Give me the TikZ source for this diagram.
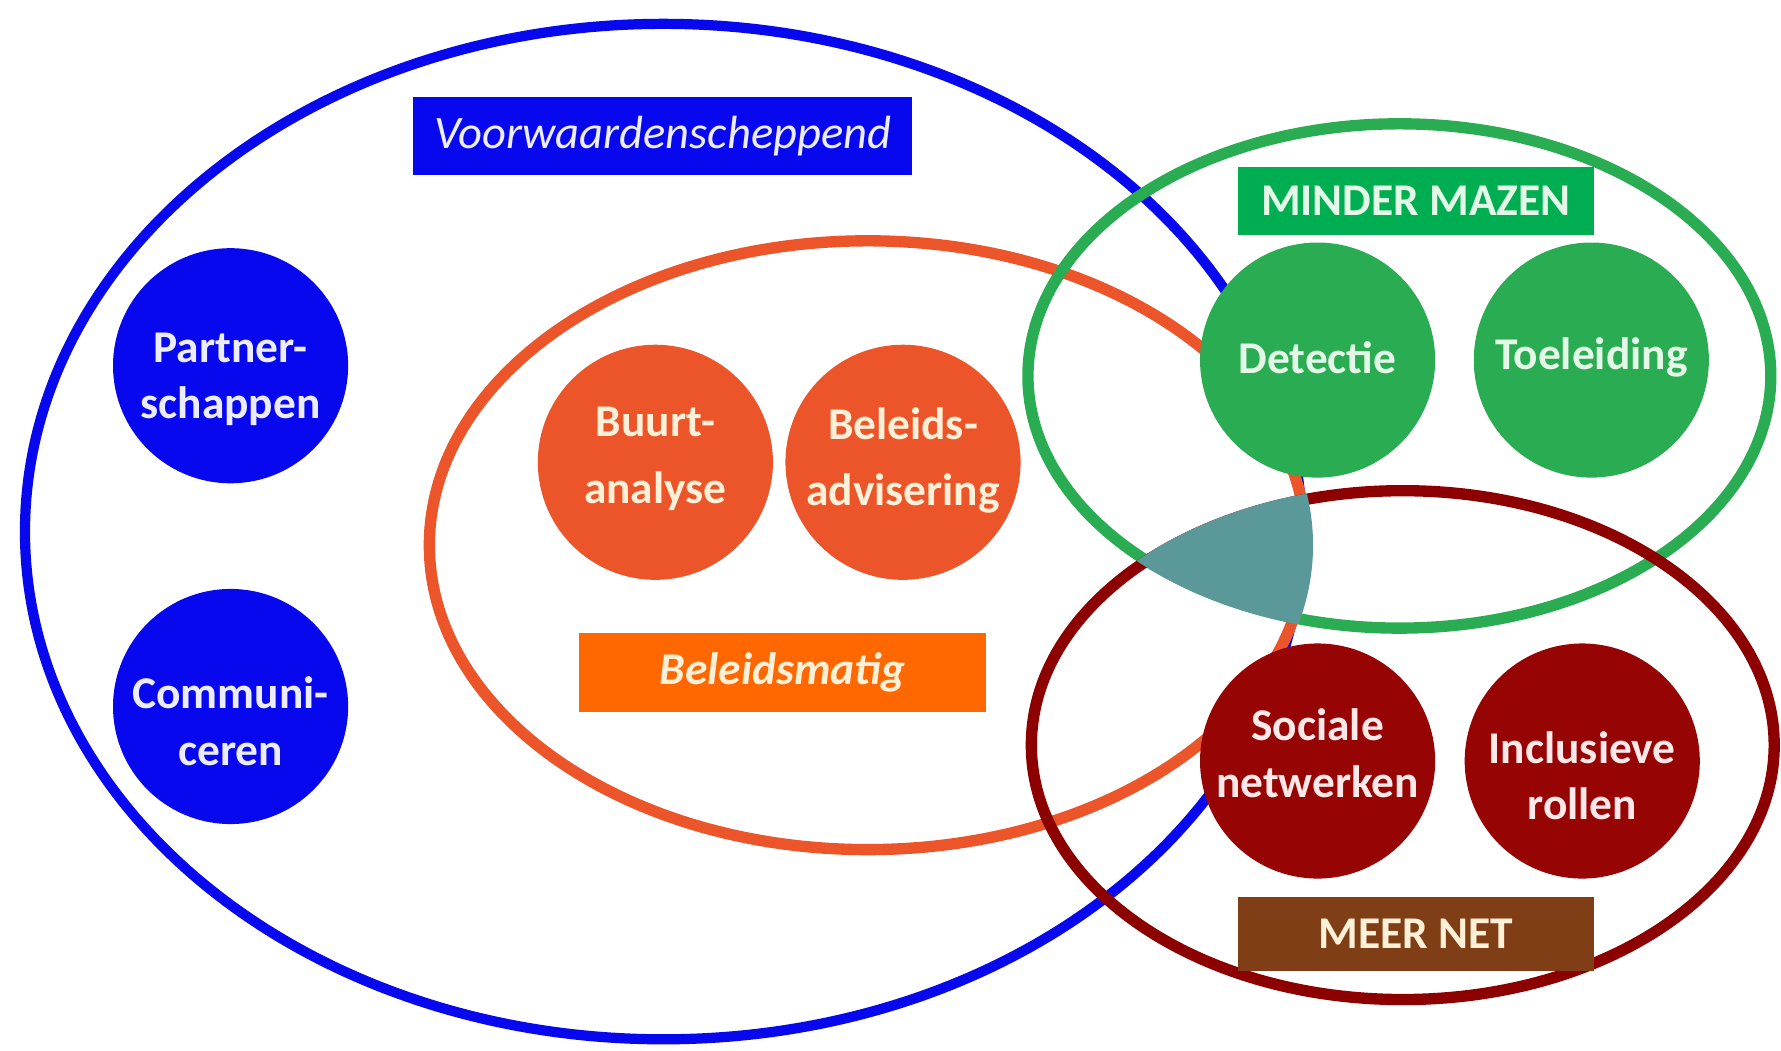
\documentclass[tikz,border=0pt]{standalone}
\usepackage{fontspec}
\setmainfont{Carlito}
\definecolor{bluec}{RGB}{8,8,238}
\definecolor{orangec}{RGB}{236,84,42}
\definecolor{orangebox}{RGB}{255,104,0}
\definecolor{greenc}{RGB}{42,172,82}
\definecolor{greenbox}{RGB}{0,174,82}
\definecolor{redc}{RGB}{140,0,0}
\definecolor{redfill}{RGB}{150,4,4}
\definecolor{brownbox}{RGB}{128,62,22}
\definecolor{tealc}{RGB}{90,152,154}
\definecolor{txtblue}{RGB}{236,236,255}
\definecolor{txtorange}{RGB}{255,240,215}
\definecolor{txtgreen}{RGB}{228,248,232}
\definecolor{txtred}{RGB}{255,232,232}
\begin{document}
\begin{tikzpicture}[x=1pt,y=-1pt,
  lab/.style={font=\fontsize{40}{50}\selectfont\bfseries, align=center},
  bub/.style={circle, minimum size=207pt, inner sep=0pt},
  txt/.style={lab, inner sep=0pt},
  tag/.style={rectangle, inner sep=0pt, lab},
  ring/.style={line width=10pt}]
\useasboundingbox (0,0) rectangle (1568,925);
% big ellipses
\draw[ring, bluec, line width=9pt] (584,468) ellipse [x radius=562, y radius=447];
\draw[ring, orangec] (764,480) ellipse [x radius=386, y radius=268];
\draw[ring, greenc] (1232,331) ellipse [x radius=327, y radius=222];
\draw[ring, redc] (1235,656) ellipse [x radius=327, y radius=224];
% central overlap
\begin{scope}
  \clip (1232,331) ellipse [x radius=332, y radius=227];
  \clip (1235,656) ellipse [x radius=332, y radius=229];
  \fill[tealc] (764,480) ellipse [x radius=392, y radius=272];
\end{scope}
% labels
\node[tag, fill=bluec, text=txtblue, minimum width=439pt, minimum height=69pt,
  font=\fontsize{41}{50}\selectfont\mdseries\itshape] (voor) at (583.5,119.5) {Voorwaardenscheppend};
\node[tag, fill=greenbox, text=txtgreen, minimum width=313pt, minimum height=60pt] (minder) at (1246.5,177) {MINDER MAZEN};
\node[tag, fill=orangebox, text=txtorange, minimum width=358pt, minimum height=70pt,
  font=\fontsize{40}{50}\selectfont\bfseries\itshape] (beleid) at (689,592) {Beleidsmatig};
\node[tag, fill=brownbox, text=txtorange, minimum width=313pt, minimum height=65pt] (meer) at (1246.5,822.5) {MEER NET};
% circles
\node[bub, fill=bluec] (partner) at (203,322) {};
\node[bub, fill=bluec] (comm) at (203,622) {};
\node[bub, fill=orangec] (buurt) at (577,407) {};
\node[bub, fill=orangec] (advies) at (795,407) {};
\node[bub, fill=greenc] (detectie) at (1160,317) {};
\node[bub, fill=greenc] (toeleiding) at (1401,317) {};
\node[bub, fill=redfill] (sociale) at (1160,670) {};
\node[bub, fill=redfill] (inclusief) at (1393,670) {};
% circle texts
\node[txt, text=txtblue] (partnert) at ([yshift=-12pt]partner.center) {Partner-\\schappen};
\node[txt, text=txtblue] (commt) at ([yshift=-13pt]comm.center) {Communi-\\ceren};
\node[txt, text=txtorange, font=\fontsize{40}{59}\selectfont\bfseries] (buurtt) at ([yshift=3pt]buurt.center) {Buurt-\\analyse};
\node[txt, text=txtorange, font=\fontsize{40}{58}\selectfont\bfseries] (adviest) at ([yshift=2pt]advies.center) {Beleids-\\advisering};
\node[txt, text=txtgreen] (detectiet) at ([yshift=2pt]detectie.center) {Detectie};
\node[txt, text=txtgreen] (toeleidingt) at ([yshift=2pt]toeleiding.center) {Toeleiding};
\node[txt, text=txtred] (socialet) at ([yshift=7pt]sociale.center) {Sociale\\netwerken};
\node[txt, text=txtred] (inclusieft) at ([yshift=-13pt]inclusief.center) {Inclusieve\\rollen};
\end{tikzpicture}
\end{document}
